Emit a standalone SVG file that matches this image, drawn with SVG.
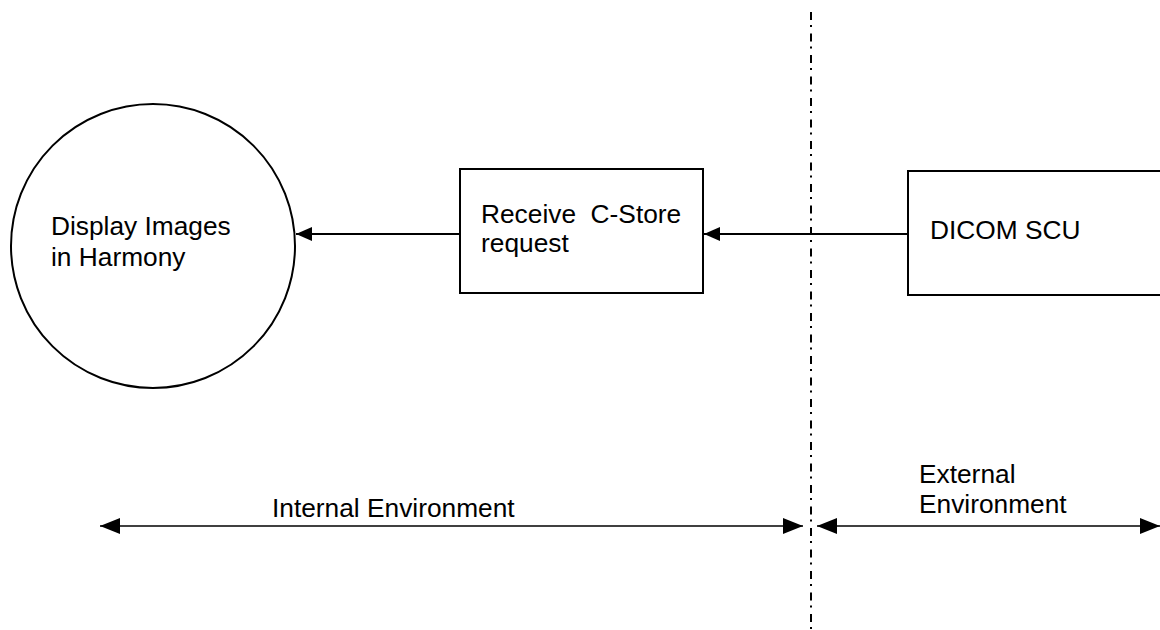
<svg xmlns="http://www.w3.org/2000/svg" width="1160" height="630" viewBox="0 0 1160 630">
<style>
text{font-family:"Liberation Sans",Arial,sans-serif;font-size:26.3px;fill:#000}
.shape{fill:#fff;stroke:#000;stroke-width:2}
.conn{stroke:#000;stroke-width:2;fill:none}
.dim{stroke:#000;stroke-width:1.6;fill:none}
.boundary{stroke:#000;stroke-width:2;stroke-dasharray:8 5 2 6.5;fill:none}
</style>
<defs>
<marker id="ah" markerUnits="userSpaceOnUse" markerWidth="18" markerHeight="16" refX="16" refY="7" orient="auto">
<path d="M0,0 L16,7 L0,14 Z" fill="#000"/>
</marker>
<marker id="ahb" markerUnits="userSpaceOnUse" markerWidth="22" markerHeight="18" refX="20" refY="8" orient="auto">
<path d="M0,0 L20,8 L0,16 Z" fill="#000"/>
</marker>
<marker id="ahbs" markerUnits="userSpaceOnUse" markerWidth="22" markerHeight="18" refX="0" refY="8" orient="auto">
<path d="M20,0 L0,8 L20,16 Z" fill="#000"/>
</marker>
</defs>
<rect width="1160" height="630" fill="#fff"/>
<g id="boundary">
<line class="boundary" x1="811" y1="12" x2="811" y2="630"/>
</g>
<g id="display-images">
<circle class="shape" cx="153" cy="246" r="142" stroke-width="1.6"/>
<text x="51" y="235">Display Images</text>
<text x="51" y="266">in Harmony</text>
</g>
<g id="receive-cstore">
<rect class="shape" x="460" y="169" width="243" height="124"/>
<text x="481" y="223" xml:space="preserve">Receive  C-Store</text>
<text x="481" y="252">request</text>
</g>
<g id="dicom-scu">
<rect class="shape" x="908" y="171" width="270" height="124"/>
<text x="930" y="239">DICOM SCU</text>
</g>
<g id="connectors">
<line class="conn" x1="908" y1="234" x2="704" y2="234" marker-end="url(#ah)"/>
<line class="conn" x1="460" y1="234" x2="296" y2="234" marker-end="url(#ah)"/>
</g>
<g id="environments">
<line class="dim" x1="100" y1="526" x2="803" y2="526" marker-start="url(#ahbs)" marker-end="url(#ahb)"/>
<line class="dim" x1="817" y1="526" x2="1160" y2="526" marker-start="url(#ahbs)" marker-end="url(#ahb)"/>
<text x="272" y="517">Internal Environment</text>
<text x="919" y="483">External</text>
<text x="919" y="513">Environment</text>
</g>
</svg>
